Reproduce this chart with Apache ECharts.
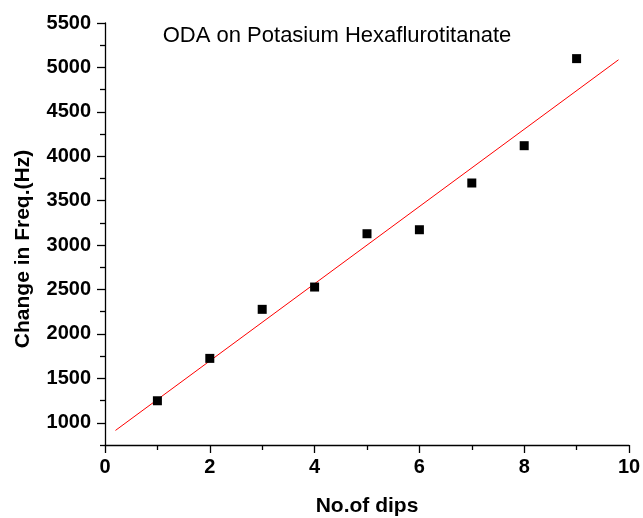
<!DOCTYPE html>
<html>
<head>
<meta charset="utf-8">
<script src="https://cdn.jsdelivr.net/npm/echarts@6/dist/echarts.min.js"></script>
<style>
html,body{margin:0;padding:0;background:#fff;}
#chart{width:643px;height:518px;}
</style>
</head>
<body>
<div id="chart"></div>
<script>
const dips = [1, 2, 3, 4, 5, 6, 7, 8, 9];
const freqChange = [1248, 1725, 2277, 2528, 3128, 3173, 3699, 4119, 5099];
const fitX = [0.2, 9.8];
const fitY = [914, 5086];
const yMajorTicks = [1000, 1500, 2000, 2500, 3000, 3500, 4000, 4500, 5000, 5500];
const yMinorTicks = [750, 1250, 1750, 2250, 2750, 3250, 3750, 4250, 4750, 5250];

const font = '"Liberation Sans", Arial, sans-serif';
const chart = echarts.init(document.getElementById('chart'));
const scatterData = dips.map((x, i) => [x, freqChange[i]]);
const fitData = fitX.map((x, i) => [x, fitY[i]]);

chart.setOption({
  animation: false,
  backgroundColor: '#fff',
  title: {
    text: 'ODA on Potasium Hexaflurotitanate',
    left: 332, top: 20, textAlign: 'center',
    textStyle: {fontFamily: font, fontSize: 22, fontWeight: 'normal', color: '#000'}
  },
  grid: {left: 105, right: 14, top: 23, bottom: 73, outerBoundsMode: 'none', containLabel: false},
  xAxis: {
    type: 'value', min: 0, max: 10, interval: 2,
    name: 'No.of dips', nameLocation: 'middle', nameGap: 51,
    nameTextStyle: {fontFamily: font, fontSize: 21, fontWeight: 'bold', color: '#000'},
    axisLine: {show: true, onZero: false, lineStyle: {color: '#000', width: 1.3}},
    axisTick: {show: true, inside: false, length: 8, lineStyle: {color: '#000', width: 1.3}},
    minorTick: {show: true, splitNumber: 2, length: 5, lineStyle: {color: '#000', width: 1.3}},
    axisLabel: {fontFamily: font, fontSize: 20, fontWeight: 'bold', color: '#000', margin: 12,
      formatter: v => String(v)},
    splitLine: {show: false}
  },
  yAxis: [{
    type: 'value', min: 750, max: 5500, position: 'left',
    name: 'Change in Freq.(Hz)', nameLocation: 'middle', nameGap: 71,
    nameTextStyle: {fontFamily: font, fontSize: 21, fontWeight: 'bold', color: '#000', padding: [0, 30, 0, 0]},
    axisLine: {show: true, onZero: false, lineStyle: {color: '#000', width: 1.3}},
    axisTick: {show: true, inside: false, length: 8, customValues: yMajorTicks, lineStyle: {color: '#000', width: 1.3}},
    axisLabel: {fontFamily: font, fontSize: 20, fontWeight: 'bold', color: '#000', margin: 14,
      customValues: yMajorTicks, formatter: v => String(v)},
    splitLine: {show: false}
  }, {
    type: 'value', min: 750, max: 5500, position: 'left', offset: 0,
    axisLine: {show: false},
    axisTick: {show: true, inside: false, length: 5, customValues: yMinorTicks, lineStyle: {color: '#000', width: 1.3}},
    axisLabel: {show: false},
    splitLine: {show: false}
  }],
  series: [{
    type: 'line', data: fitData, showSymbol: false, symbol: 'none',
    lineStyle: {color: '#ff0000', width: 1}, z: 2
  }, {
    type: 'scatter', data: scatterData, symbol: 'rect', symbolSize: 9,
    itemStyle: {color: '#000', opacity: 1}, z: 3
  }]
});
</script>
</body>
</html>
